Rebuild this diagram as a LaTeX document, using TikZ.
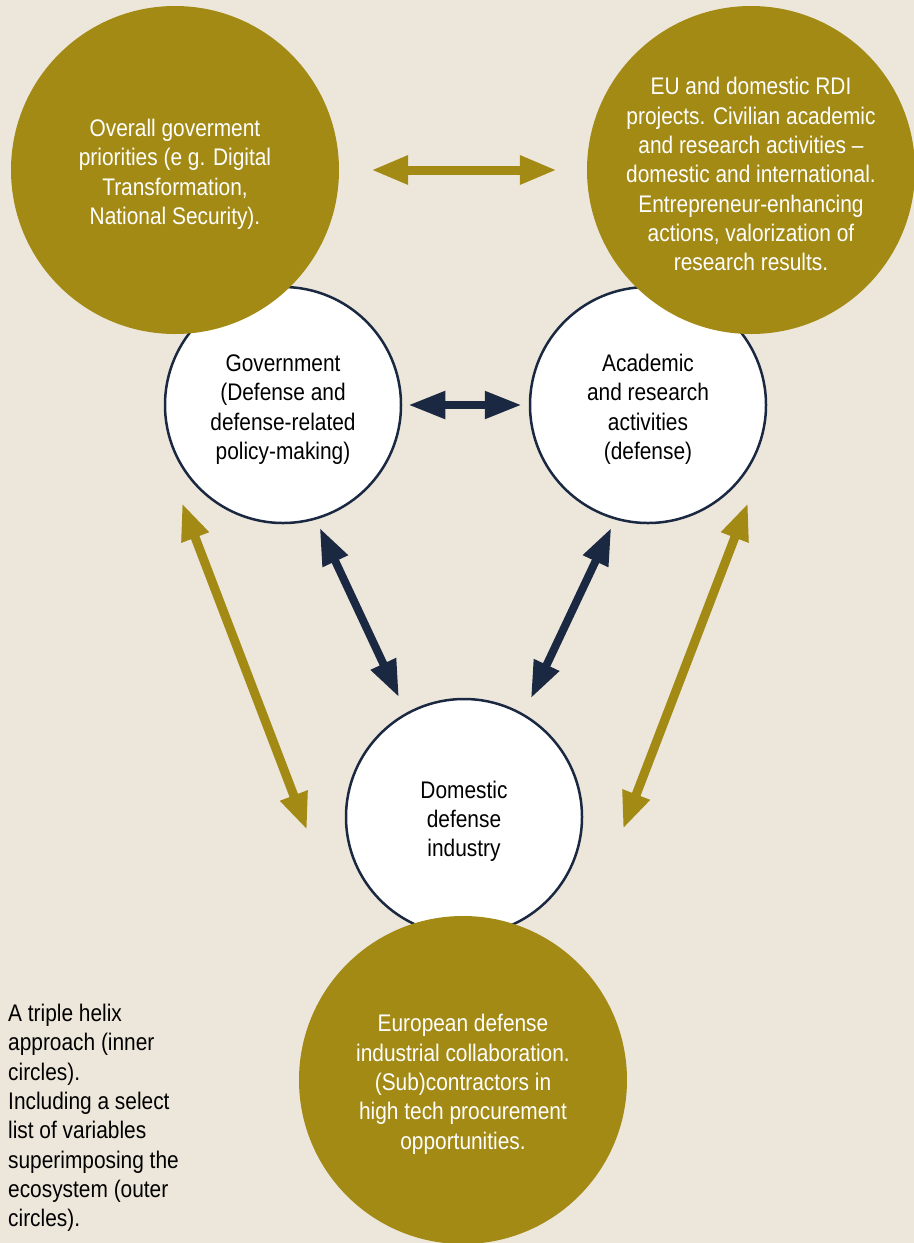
\documentclass[tikz,border=0pt]{standalone}
\usepackage{fontspec}
\setmainfont{Liberation Sans}[FakeStretch=0.87]
\usetikzlibrary{arrows.meta}
\definecolor{bgbeige}{HTML}{EDE7DB}
\definecolor{helixgold}{HTML}{A38A15}
\definecolor{helixnavy}{HTML}{1A2842}
\newcommand{\helixgap}{\rule{0pt}{26bp}}
\tikzset{
	helixinner/.style={circle, draw=helixnavy, line width=2.5bp, fill=white, minimum size=236bp, inner sep=0pt, align=center, text=black},
	helixouter/.style={circle, fill=helixgold, minimum size=328bp, inner sep=0pt, align=center, text=white},
	goldarrow/.style={draw=helixgold, line width=9bp, {Triangle[length=37bp,width=27bp]}-{Triangle[length=37bp,width=27bp]}},
	navyarrow/.style={draw=helixnavy, line width=8bp, {Triangle[length=37bp,width=26bp]}-{Triangle[length=37bp,width=26bp]}}
}

\begin{document}
\begin{tikzpicture}[x=1bp, y=-1bp, font=\fontsize{24bp}{29.3bp}\selectfont]
			%%%%% START %%%%%
			
			\fill[bgbeige] (0, 0) rectangle (914, 1243);
			\useasboundingbox (0, 0) rectangle (914, 1243);
			
			% inner circles (triple helix)
			\node[helixinner] (gov) at (283, 405) {\helixgap Government\\(Defense and\\defense-related\\policy-making)};
			\node[helixinner] (acad) at (648, 405) {\helixgap Academic\\and research\\activities\\(defense)};
			\node[helixinner] (dom) at (464, 817) {\helixgap Domestic\\defense\\industry};
			
			% outer circles (ecosystem)
			\node[helixouter] (govouter) at (175, 170) {\helixgap Overall goverment\\priorities (e g. Digital\\Transformation,\\National Security).};
			\node[helixouter] (acadouter) at (751, 170) {\helixgap EU and domestic RDI\\projects. Civilian academic\\and research activities --\\domestic and international.\\Entrepreneur-enhancing\\actions, valorization of\\research results.};
			\node[helixouter] (domouter) at (463, 1080) {\helixgap European defense\\industrial collaboration.\\(Sub)contractors in\\high tech procurement\\opportunities.};
			
			% note
			\node[anchor=north west, align=left, inner sep=0pt] (note) at (8, 1004) {A triple helix\\approach (inner\\circles).\\Including a select\\list of variables\\superimposing the\\ecosystem (outer\\circles).};
			
			% ends of the outer arrows
			\coordinate (leftup) at (182, 503);
			\coordinate (leftdown) at (307, 830);
			\coordinate (rightup) at (748, 503);
			\coordinate (rightdown) at (623, 829);
			
			\draw[goldarrow, shorten <=32bp, shorten >=30bp] (govouter) -- (acadouter);
			\draw[goldarrow] (leftup) -- (leftdown);
			\draw[goldarrow] (rightup) -- (rightdown);
			
			\draw[navyarrow, shorten <=6bp, shorten >=7bp] (gov) -- (acad);
			\draw[navyarrow, shorten <=9bp, shorten >=17bp] (gov.-74) -- (dom.119);
			\draw[navyarrow, shorten <=9bp, shorten >=17bp] (acad.254) -- (dom.60);
			
			%%%%% END %%%%%
\end{tikzpicture}
\end{document}
